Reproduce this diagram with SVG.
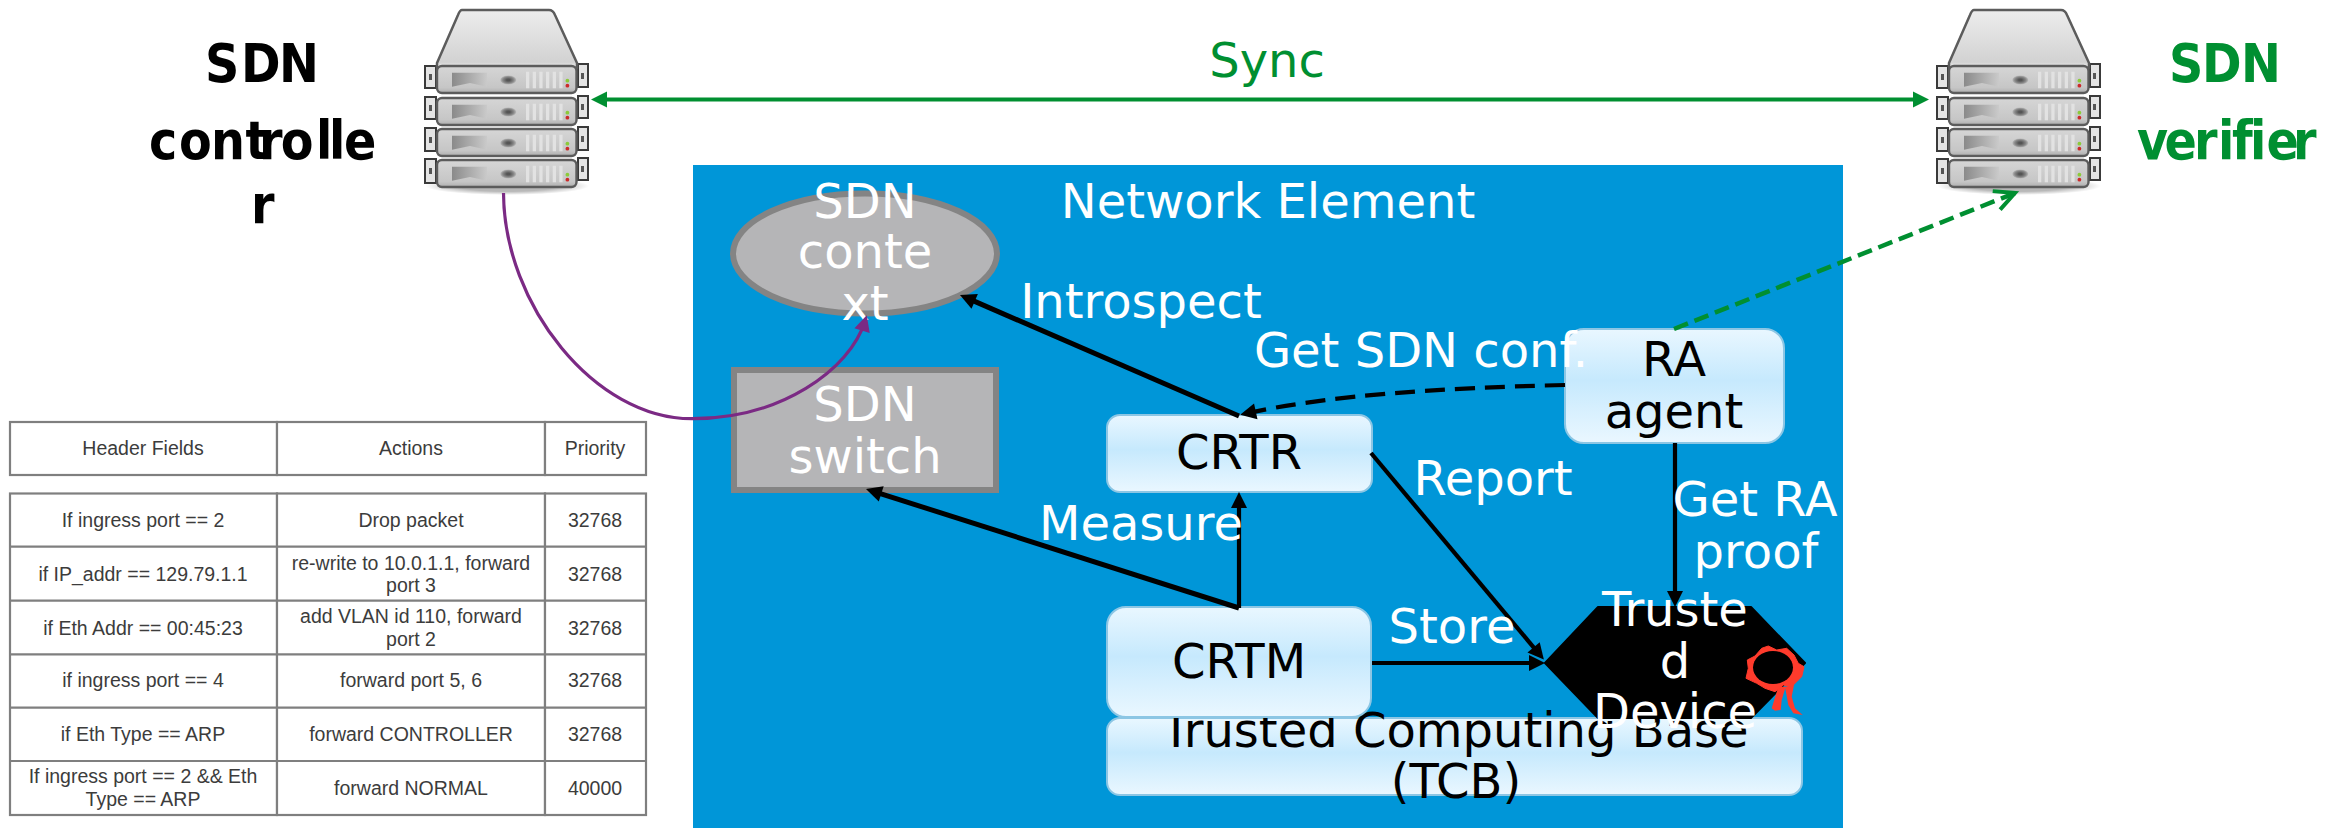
<svg xmlns="http://www.w3.org/2000/svg" xmlns:xlink="http://www.w3.org/1999/xlink" width="2341" height="828" viewBox="0 0 2341 828">
<style>
text{font-family:"DejaVu Sans","Liberation Sans",sans-serif;font-size:48px;text-anchor:middle}
.w{fill:#fff}.k{fill:#000}
.g{fill:#008f31}
text.lbl{font-family:"DejaVu Sans Condensed","DejaVu Sans",sans-serif;font-stretch:condensed;font-weight:700;font-size:53px;text-anchor:start}
.box{fill:url(#boxG);stroke:#8cc6e4;stroke-width:2}
.gray{fill:#b5b5b7;stroke:#848484;stroke-width:6}
.conn{fill:none;stroke:#000;stroke-width:4.2}
.thick{stroke-width:5}
.tb text{font-family:"Liberation Sans",Arial,sans-serif;font-size:19.5px;fill:#3c3c3c}
.tb rect,.tb line{fill:#fff;stroke:#7f7f7f;stroke-width:2.2}
.ear{fill:#e4e4e4;stroke:#3a3a3a;stroke-width:2}
</style>
<defs>
<linearGradient id="boxG" x1="0" y1="0" x2="0" y2="1"><stop offset="0" stop-color="#e9f7ff"/><stop offset=".45" stop-color="#c6e9fd"/><stop offset="1" stop-color="#eaf7ff"/></linearGradient>
<linearGradient id="topG" x1="0" y1="0" x2="0" y2="1"><stop offset="0" stop-color="#ededed"/><stop offset=".9" stop-color="#d2d2d2"/><stop offset="1" stop-color="#f2f2f2"/></linearGradient>
<linearGradient id="unitG" x1="0" y1="0" x2="0" y2="1"><stop offset="0" stop-color="#d6d6d6"/><stop offset=".8" stop-color="#c6c6c6"/><stop offset="1" stop-color="#aeaeae"/></linearGradient>
<linearGradient id="panelG" x1="0" y1="0" x2="1" y2="0"><stop offset="0" stop-color="#8a8a8a"/><stop offset="1" stop-color="#cacaca"/></linearGradient>
<radialGradient id="lensG"><stop offset=".2" stop-color="#555"/><stop offset=".7" stop-color="#8a8a8a"/><stop offset="1" stop-color="#bbb"/></radialGradient>
<radialGradient id="shadowG"><stop offset=".6" stop-color="#000" stop-opacity=".28"/><stop offset="1" stop-color="#000" stop-opacity="0"/></radialGradient>
<marker id="hk" markerUnits="userSpaceOnUse" markerWidth="20" markerHeight="18" refX="10" refY="8" orient="auto" overflow="visible"><path d="M0,0L16,8L0,16z" fill="#000"/></marker>
<marker id="hp" markerUnits="userSpaceOnUse" markerWidth="20" markerHeight="18" refX="10" refY="8" orient="auto" overflow="visible"><path d="M0,0L16,8L0,16z" fill="#7b2a84"/></marker>
<marker id="hg" markerUnits="userSpaceOnUse" markerWidth="20" markerHeight="18" refX="10" refY="8" orient="auto-start-reverse" overflow="visible"><path d="M0,0L16,8L0,16z" fill="#008f31"/></marker>
<marker id="ho" markerUnits="userSpaceOnUse" markerWidth="26" markerHeight="26" refX="21" refY="11" orient="auto" overflow="visible"><path d="M1,1L21,11L1,21" fill="none" stroke="#008f31" stroke-width="4"/></marker>
<g id="unit">
<rect x="437" y="66" width="139.5" height="27" rx="5" fill="url(#unitG)" stroke="#5c5c5c" stroke-width="2.4"/>
<path d="M452,72.7H487V86.7L470,83L452,86.7z" fill="url(#panelG)"/>
<ellipse cx="508.3" cy="80" rx="8" ry="4.6" fill="url(#lensG)"/>
<path d="M526,71.7h3.3v16.6h-3.3zM532.7,71.7h3.3v16.6h-3.3zM539.3,71.7h3.3v16.6h-3.3zM546,71.7h3.3v16.6h-3.3zM552.7,71.7h3.3v16.6h-3.3zM559.3,71.7h3.3v16.6h-3.3z" fill="#e2e2e2"/>
<circle cx="567.4" cy="80.7" r="1.9" fill="#8ccb3a"/><circle cx="567.4" cy="85.7" r="1.9" fill="#cc2a2a"/>
</g>
<g id="server">
<ellipse cx="507" cy="186" rx="82" ry="9" fill="url(#shadowG)"/>
<rect class="ear" x="425" y="66" width="11" height="22"/><rect class="ear" x="425" y="97" width="11" height="22"/><rect class="ear" x="425" y="128" width="11" height="23"/><rect class="ear" x="425" y="159" width="11" height="24"/>
<rect class="ear" x="578" y="64" width="10" height="23"/><rect class="ear" x="578" y="96" width="10" height="22"/><rect class="ear" x="578" y="127" width="10" height="23"/><rect class="ear" x="578" y="158" width="10" height="22"/>
<path d="M429,74h3v6h-3zM429,105h3v6h-3zM429,137h3v6h-3zM429,168h3v6h-3zM581,73h3v6h-3zM581,104h3v6h-3zM581,136h3v6h-3zM581,166h3v6h-3z" fill="#555"/>
<path d="M462,10H549Q553,10 555,15L577,63V68H437V63L458,15Q460,10 462,10z" fill="url(#topG)" stroke="#5c5c5c" stroke-width="2.5" stroke-linejoin="round"/>
<use xlink:href="#unit" y="0"/><use xlink:href="#unit" y="32"/><use xlink:href="#unit" y="63"/><use xlink:href="#unit" y="94"/>
</g>
</defs>
<rect id="bg" x="0" y="0" width="2341" height="828" fill="#fff"/>
<g id="label-controller" class="k">
<text class="lbl" x="205 241 279" y="81.7">SDN</text>
<text class="lbl" x="149 179 211 245.6 259 280.7 316 329 344" y="159.3">controlle</text>
<text class="lbl" x="251" y="223">r</text>
</g>
<g id="label-verifier" class="g">
<text class="lbl g" x="2169 2202 2241" y="81.7">SDN</text>
<text class="lbl g" x="2137 2164.5 2194 2218 2232 2250 2266.5 2293" y="159">verifier</text>
</g>
<g id="sdn-controller"><use xlink:href="#server"/></g>
<g id="sdn-verifier"><use xlink:href="#server" x="1512"/></g>
<g id="table" class="tb">
<rect x="10" y="422" width="267" height="53"/><rect x="277" y="422" width="268" height="53"/><rect x="545" y="422" width="101" height="53"/>
<rect x="10" y="493.5" width="267" height="321.5"/><rect x="277" y="493.5" width="268" height="321.5"/><rect x="545" y="493.5" width="101" height="321.5"/>
<line x1="10" y1="546.7" x2="646" y2="546.7"/><line x1="10" y1="600.7" x2="646" y2="600.7"/><line x1="10" y1="654.3" x2="646" y2="654.3"/><line x1="10" y1="707.7" x2="646" y2="707.7"/><line x1="10" y1="761" x2="646" y2="761"/>
<text x="143" y="455">Header Fields</text><text x="411" y="455">Actions</text><text x="595" y="455">Priority</text>
<text x="143" y="526.7">If ingress port == 2</text><text x="411" y="526.7">Drop packet</text><text x="595" y="526.7">32768</text>
<text x="143" y="580.7">if IP_addr == 129.79.1.1</text><text x="411" y="570">re-write to 10.0.1.1, forward</text><text x="411" y="592">port 3</text><text x="595" y="580.7">32768</text>
<text x="143" y="634.5">if Eth Addr == 00:45:23</text><text x="411" y="622.7">add VLAN id 110, forward</text><text x="411" y="646">port 2</text><text x="595" y="634.5">32768</text>
<text x="143" y="687">if ingress port == 4</text><text x="411" y="687">forward port 5, 6</text><text x="595" y="687">32768</text>
<text x="143" y="741">if Eth Type == ARP</text><text x="411" y="741">forward CONTROLLER</text><text x="595" y="741">32768</text>
<text x="143" y="783">If ingress port == 2 &amp;&amp; Eth</text><text x="143" y="806">Type == ARP</text><text x="411" y="795">forward NORMAL</text><text x="595" y="795">40000</text>
</g>
<g id="network-element">
<rect x="693" y="165" width="1150" height="663" fill="#0096d8"/>
<text class="w" x="1268" y="218">Network Element</text>
</g>
<g id="sdn-context">
<ellipse cx="865" cy="253.5" rx="132" ry="60" class="gray"/>
<text class="w" x="865" y="218">SDN</text><text class="w" x="865" y="268">conte</text><text class="w" x="865" y="320">xt</text>
</g>
<g id="sdn-switch">
<rect x="734" y="370" width="262" height="120" class="gray"/>
<text class="w" x="865" y="421">SDN</text><text class="w" x="865" y="473">switch</text>
</g>
<g id="tcb">
<rect x="1107" y="718" width="695" height="77" rx="13" class="box"/>
<text class="k" x="1455" y="747">Trusted Computing Base</text><text class="k" x="1456" y="798">(TCB)</text>
</g>
<g id="crtm">
<rect x="1107" y="607" width="264" height="110" rx="19" class="box"/>
<text class="k" x="1239" y="678">CRTM</text>
</g>
<g id="crtr">
<rect x="1107" y="415" width="265" height="77" rx="13" class="box"/>
<text class="k" x="1239" y="469">CRTR</text>
</g>
<g id="ra-agent">
<rect x="1565" y="329" width="219" height="114" rx="19" class="box"/>
<text class="k" x="1674" y="376">RA</text><text class="k" x="1674" y="428">agent</text>
</g>
<g id="trusted-device">
<path d="M1545,663L1598,607H1751L1805,663L1751,718H1598z" fill="#000" stroke="#000" stroke-width="2" stroke-linejoin="round"/>
<path d="M1778.3,686.7L1771.7,708.3L1775,710.7L1780.7,710L1781.7,700L1785.7,686.7zM1785,686.7L1788.3,705L1793.3,713.3L1802.7,715L1795,708.3L1791.7,696.7L1794,685z" fill="#ff3b2c"/>
<path d="M1746,678.3L1748.3,668.3L1747.3,660L1755,656L1761.7,648.3L1768.3,646L1776.7,650L1786.7,648.3L1794,655L1798.3,663.3L1804,666.7L1801.7,676.7L1798.3,680L1791.7,686.7L1783.3,685L1775,691.7L1765,688.3L1756.7,683.3z" fill="#ff3b2c" stroke="#ff3b2c" stroke-width="1" stroke-linejoin="round"/>
<ellipse cx="1773" cy="667.5" rx="20" ry="16.5" fill="#000"/>
<text class="w" x="1675" y="626">Truste</text><text class="w" x="1675" y="678">d</text><text class="w" x="1675" y="728">Device</text>
</g>
<g id="connectors">
<path d="M597,99.5H1923" fill="none" stroke="#008f31" stroke-width="4" marker-start="url(#hg)" marker-end="url(#hg)"/>
<path d="M503.5,193C504,305 595,419 692,418.7C780,419 850,370 865,321" fill="none" stroke="#7b2a84" stroke-width="3.2" marker-end="url(#hp)"/>
<path d="M1239,416L965.5,297.4" class="conn thick" marker-end="url(#hk)"/>
<path d="M1239,608L871.7,490.8" class="conn thick" marker-end="url(#hk)"/>
<path d="M1239,608V498" class="conn" marker-end="url(#hk)"/>
<path d="M1371,453L1540,655" class="conn" marker-end="url(#hk)"/>
<path d="M1372,663H1539" class="conn" marker-end="url(#hk)"/>
<path d="M1675,443V601" class="conn" marker-end="url(#hk)"/>
<path d="M1565,385C1440,388 1330,395 1246,413.5" class="conn" stroke-dasharray="20 10" marker-end="url(#hk)"/>
<path d="M1674,329L2015,193" fill="none" stroke="#008f31" stroke-width="4.5" stroke-dasharray="15 7" marker-end="url(#ho)"/>
</g>
<g id="labels">
<text class="g" x="1267" y="77">Sync</text>
<text class="w" x="1141" y="318">Introspect</text>
<text class="w" x="1421" y="367">Get SDN conf.</text>
<text class="w" x="1141" y="540">Measure</text>
<text class="w" x="1493" y="495">Report</text>
<text class="w" x="1452" y="643">Store</text>
<text class="w" x="1755" y="516">Get RA</text><text class="w" x="1756" y="568">proof</text>
</g>
</svg>
